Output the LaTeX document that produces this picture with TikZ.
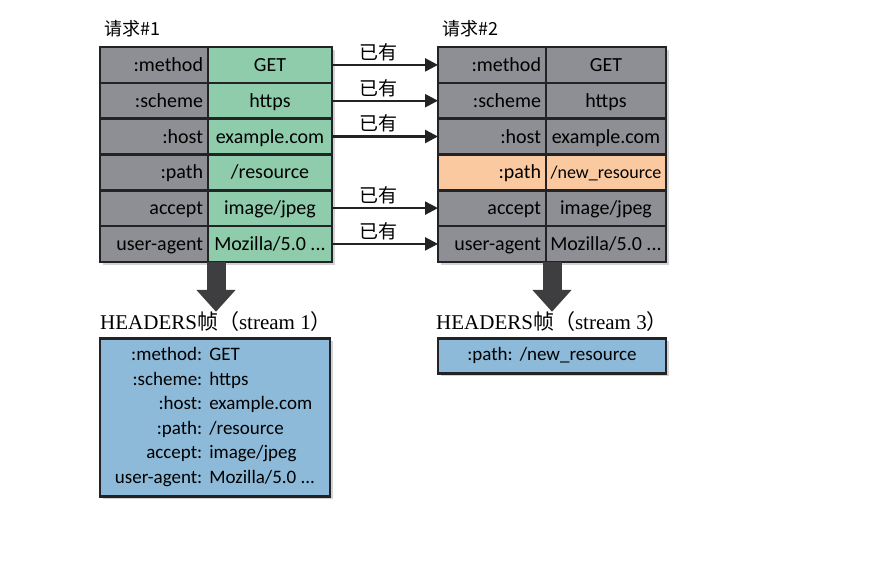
\documentclass[tikz,border=0pt]{standalone}
\usepackage{fontspec}
\setmainfont{Carlito}
\newfontfamily\cjk{Noto Sans CJK SC}
\newfontfamily\hdrfont{Liberation Serif}
\usepackage{tikz}
\usetikzlibrary{arrows.meta,positioning,fit,shadows,backgrounds}
\definecolor{edge}{RGB}{35,35,38}
\definecolor{cellgray}{RGB}{142,143,148}
\definecolor{cellgreen}{RGB}{142,204,172}
\definecolor{cellorange}{RGB}{250,201,160}
\definecolor{framblue}{RGB}{140,186,216}
\definecolor{bigarr}{RGB}{62,62,64}

\begin{document}
\begin{tikzpicture}[x=1pt, y=1pt, font=\fontsize{20}{24}\selectfont,
  cell/.style={draw=edge, line width=2.6pt, minimum height=35.8pt, inner sep=0pt, outer sep=0pt, text height=15pt, text depth=2pt},
  key/.style={cell, fill=cellgray, minimum width=108pt, text width=98pt, align=right},
  lval/.style={cell, fill=cellgreen, minimum width=124pt}, rval/.style={cell, fill=cellgray, minimum width=120pt},
  shade/.style={drop shadow={shadow xshift=3pt, shadow yshift=-3pt, opacity=0.35}},
  frame/.style={draw=edge, line width=2.6pt, fill=framblue, inner sep=0pt, shade, font=\fontsize{19}{24.5}\selectfont},
  title/.style={anchor=west, inner sep=0pt, font=\cjk\fontsize{18}{20}\selectfont},
  hdr/.style={inner sep=0pt, font=\hdrfont\fontsize{21}{24}\selectfont},
  have/.style={above, pos=0.44, inner sep=3pt, font=\cjk\fontsize{19}{20}\selectfont},
  link/.style={line width=2.4pt, draw=edge, -{Triangle[length=13pt, width=13pt]}},
  bigarrow/.style={line width=19pt, draw=bigarr, -{Triangle[length=22pt, width=38pt]}}]
\useasboundingbox (0,0) rectangle (892,-560);
\node[title] (t1) at (104,-29) {请求\#1};
\node[title] (t2) at (442,-29) {请求\#2};
\foreach \k/\v [count=\i] in {{:method}/{GET}, {:scheme}/{https}, {:host}/{example.com}, {:path}/{/resource}, {accept}/{image/jpeg}, {user-agent}/{Mozilla/5.0 ...}} {
  \ifnum\i=4 \def\rfill{cellorange}\def\rv{\fontsize{18}{20}\selectfont/new\_resource}\else \def\rfill{cellgray}\let\rv\v \fi
  \node[key] (lk\i) at (154, {-29.1-35.8*\i}) {\k};
  \node[lval, right=0pt of lk\i] (lv\i) {\v};
  \node[key, fill=\rfill] (rk\i) at (492, {-29.1-35.8*\i}) {\k};
  \node[rval, fill=\rfill, right=0pt of rk\i] (rv\i) {\rv};
}
\begin{scope}[on background layer]
\node[fit=(lk1)(lv6), inner sep=0pt, fill=white, shade] {};
\node[fit=(rk1)(rv6), inner sep=0pt, fill=white, shade] {};
\end{scope}
\foreach \i in {1,2,3,5,6}
  \draw[link] (lv\i) -- node[have] {已有} (rk\i);
\node[hdr] (h1) at (216,-322) {HEADERS{\cjk 帧（}stream 1{\cjk ）}};
\node[hdr] (h2) at (552,-322) {HEADERS{\cjk 帧（}stream 3{\cjk ）}};
\node[frame, minimum width=230pt, minimum height=158pt, anchor=north] (f1) at (215,-337) {%
  \begin{tabular}{@{}r@{\hspace{7pt}}l@{}}
  :method: & GET\\
  :scheme: & https\\
  :host: & example.com\\
  :path: & /resource\\
  accept: & image/jpeg\\
  user-agent: & Mozilla/5.0 ...
  \end{tabular}};
\node[frame, minimum width=228pt, minimum height=35pt, anchor=north] (f2) at (552,-337) {:path:\hspace{7pt}/new\_resource};
\coordinate (d1) at ([xshift=8pt]lv6.south west);
\coordinate (d2) at ([xshift=6pt]rv6.south west);
\draw[bigarrow] (d1) -- (d1 |- h1.north);
\draw[bigarrow] (d2) -- (d2 |- h2.north);
\end{tikzpicture}
\end{document}
